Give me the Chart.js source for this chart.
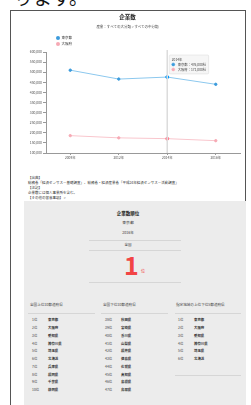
<!DOCTYPE html>
<html><head><meta charset="utf-8">
<script src="https://cdn.jsdelivr.net/npm/chart.js@4/dist/chart.umd.min.js"></script>
<style>
html,body{margin:0;padding:0;background:#fff;}
body{width:251px;height:405px;overflow:hidden;position:relative;font-family:"Noto Sans CJK JP","Noto Sans",sans-serif;color:#333;}
.a{position:absolute;white-space:nowrap;}
#box{position:absolute;left:10px;top:10px;width:234px;height:420px;border:1px solid #555;}
#cw{position:absolute;left:11px;top:12px;width:233px;height:155px;}
#panel{position:absolute;left:24px;top:201px;width:222px;height:220px;background:#ececec;}
.hr{position:absolute;height:1px;background:#d6d6d6;}
.c{text-align:center;}
</style></head><body>
<div class="a" style="left:14px;top:-17px;font-size:19px;color:#111;">ります。</div>
<div id="box"></div>
<div id="cw"><canvas id="c" width="233" height="155"></canvas></div>
<div class="a c" style="left:10px;width:235px;top:13px;font-size:5.5px;font-weight:bold;color:#222;">企業数</div>
<div class="a c" style="left:10px;width:235px;top:24px;font-size:3.5px;color:#444;">産業：すべての大分類 &gt; すべての中分類</div>
<div id="legend"></div>
<div class="a" style="left:28px;top:175px;font-size:3.5px;line-height:5px;color:#333;">【出典】<br>総務省「経済センサス－基礎調査」、総務省・経済産業省「平成24年経済センサス－活動調査」<br>【注記】<br>企業数には個人事業所を含む。<br>【その他の留意事項】 &gt;</div>
<div id="panel"></div>
<script>
const years = ['2009年','2012年','2014年','2016年'];
const seriesNames = ['東京都','大阪府'];
const tokyo = [510000, 466000, 476000, 440000];
const osaka = [186000, 175000, 171000, 161000];
const yTicks = [100000,150000,200000,250000,300000,350000,400000,450000,500000,550000,600000];
const top10 = [['1位','東京都'],['2位','大阪府'],['3位','愛知県'],['4位','神奈川県'],['5位','埼玉県'],['6位','北海道'],['7位','兵庫県'],['8位','福岡県'],['9位','千葉県'],['10位','静岡県']];
const bottom10 = [['38位','秋田県'],['39位','宮崎県'],['40位','香川県'],['41位','山梨県'],['42位','福井県'],['43位','徳島県'],['44位','佐賀県'],['45位','高知県'],['46位','島根県'],['47位','鳥取県']];
const region = [['1位','東京都'],['2位','大阪府'],['3位','愛知県'],['4位','神奈川県'],['5位','埼玉県'],['6位','北海道']];
const colHeads = ['全国上位10都道府県','全国下位10都道府県','指定地域の上位下位5都道府県'];

const lineColors = ['#8cc8ee','#f9c6cd'];
const dotColors = ['#3b9bdc','#f6a9b4'];

// legend
const lg = document.getElementById('legend');
seriesNames.forEach((n,i)=>{
  const d = document.createElement('div');
  d.className='a';
  d.style.cssText=`left:56px;top:${35+i*6}px;font-size:3.5px;line-height:5px;color:#333;`;
  d.innerHTML=`<span style="display:inline-block;width:4px;height:4px;border-radius:50%;background:${dotColors[i]};vertical-align:middle;margin-right:1.5px"></span>${n}`;
  lg.appendChild(d);
});

// panel
const p = document.getElementById('panel');
function t(txt,x,y,size,extra){const d=document.createElement('div');d.className='a';d.style.cssText=`left:${x-24}px;top:${y-201-size/2}px;font-size:${size}px;line-height:${size}px;${extra||''}`;d.textContent=txt;p.appendChild(d);return d;}
function ct(txt,y,size,extra){const d=document.createElement('div');d.className='a c';d.style.cssText=`left:0;width:208px;top:${y-201-size/2}px;font-size:${size}px;line-height:${size}px;${extra||''}`;d.textContent=txt;p.appendChild(d);return d;}
function hr(x1,x2,y){const d=document.createElement('div');d.className='hr';d.style.cssText=`left:${x1-24}px;width:${x2-x1}px;top:${y-201}px;`;p.appendChild(d);}
ct('企業数順位',213,4.5,'font-weight:bold;color:#222;');
ct('東京都',223,3.8);
ct('2016年',233,3.5);
hr(89,181,240);
ct('全国',245,3.5);
hr(89,181,250);
t('1',124,264,25,'font-weight:bold;color:#f24545;');
t('位',141,271,4,'color:#f24545;');
hr(89,181,282);
const colX=[30,103,176];
const colLines=[[28,95],[101,168],[175,241]];
colHeads.forEach((h,i)=>{t(h,colX[i],305,3.6,'color:#444;');hr(colLines[i][0],colLines[i][1],313);});
[top10,bottom10,region].forEach((rows,ci)=>{
  rows.forEach((r,ri)=>{
    const y=320+ri*7.75;
    t(r[0],colX[ci]+2,y,3.4,'color:#444;');
    t(r[1],colX[ci]+18,y,3.4,'font-weight:bold;color:#333;');
  });
});
hr(175,241,375);

// crosshair plugin
const crosshair = {
  id:'crosshair',
  afterDatasetsDraw(chart){
    const act = chart.tooltip && chart.tooltip.getActiveElements();
    if(!act || !act.length) return;
    const x = act[0].element.x;
    const ctx = chart.ctx;
    ctx.save();
    ctx.strokeStyle='#dcdcdc';
    ctx.lineWidth=1.5;
    ctx.beginPath();
    ctx.moveTo(x, chart.chartArea.top-2);
    ctx.lineTo(x, chart.chartArea.bottom);
    ctx.stroke();
    ctx.restore();
  }
};
Chart.Tooltip.positioners.topRight = function(items){
  if(!items.length) return false;
  return {x: items[0].element.x + 3, y: this.chart.chartArea.top + 1};
};

const chart = new Chart(document.getElementById('c'), {
  type:'line',
  data:{labels:years,datasets:[
    {label:seriesNames[0],data:tokyo,borderColor:lineColors[0],backgroundColor:dotColors[0],pointBackgroundColor:dotColors[0],pointBorderColor:dotColors[0],borderWidth:1,pointRadius:1.2,pointHoverRadius:1.5},
    {label:seriesNames[1],data:osaka,borderColor:lineColors[1],backgroundColor:dotColors[1],pointBackgroundColor:dotColors[1],pointBorderColor:dotColors[1],borderWidth:1,pointRadius:1.2,pointHoverRadius:1.5}
  ]},
  options:{
    responsive:false,animation:false,
    layout:{padding:{top:40,left:0,right:4,bottom:0}},
    plugins:{
      legend:{display:false},
      title:{display:false},
      tooltip:{
        enabled:true,mode:'index',intersect:false,position:'topRight',
        xAlign:'left',yAlign:'top',caretSize:0,
        backgroundColor:'rgba(245,245,245,0.95)',borderColor:'#d8d8d8',borderWidth:0.5,
        titleColor:'#444',bodyColor:'#444',
        titleFont:{size:3.3,weight:'normal',family:'Noto Sans CJK JP'},
        bodyFont:{size:3.3,family:'Noto Sans CJK JP'},
        padding:2.5,cornerRadius:1,boxWidth:3,boxHeight:3,boxPadding:1,usePointStyle:true,
        titleMarginBottom:1,bodySpacing:1,
        callbacks:{
          label:(c)=>`${c.dataset.label}：${c.parsed.y.toLocaleString('ja-JP')}社`,
          labelColor:(c)=>({borderColor:dotColors[c.datasetIndex],backgroundColor:dotColors[c.datasetIndex]}),
          labelPointStyle:()=>({pointStyle:'circle',rotation:0})
        }
      }
    },
    scales:{
      x:{offset:true,
        grid:{display:true,drawOnChartArea:false,tickLength:2,color:'#999'},
        border:{color:'#999',width:1},
        ticks:{font:{size:3.3,family:'Noto Sans CJK JP'},color:'#555',padding:1,maxRotation:0},
        afterFit(s){s.height=14;}
      },
      y:{min:100000,max:600000,
        afterBuildTicks(s){s.ticks=yTicks.map(v=>({value:v}));},
        grid:{display:true,drawOnChartArea:false,tickLength:3,color:'#999'},
        border:{color:'#999',width:1},
        ticks:{font:{size:3.4,family:'Noto Sans CJK JP'},color:'#555',padding:1,callback:v=>v.toLocaleString('en-US')},
        afterFit(s){s.width=35;}
      }
    }
  },
  plugins:[crosshair]
});
const idx=2;
const els=[{datasetIndex:0,index:idx},{datasetIndex:1,index:idx}];
chart.setActiveElements(els);
const m=chart.getDatasetMeta(0).data[idx];
chart.tooltip.setActiveElements(els,{x:m.x,y:m.y});
chart.update('none');
</script>
</body></html>
